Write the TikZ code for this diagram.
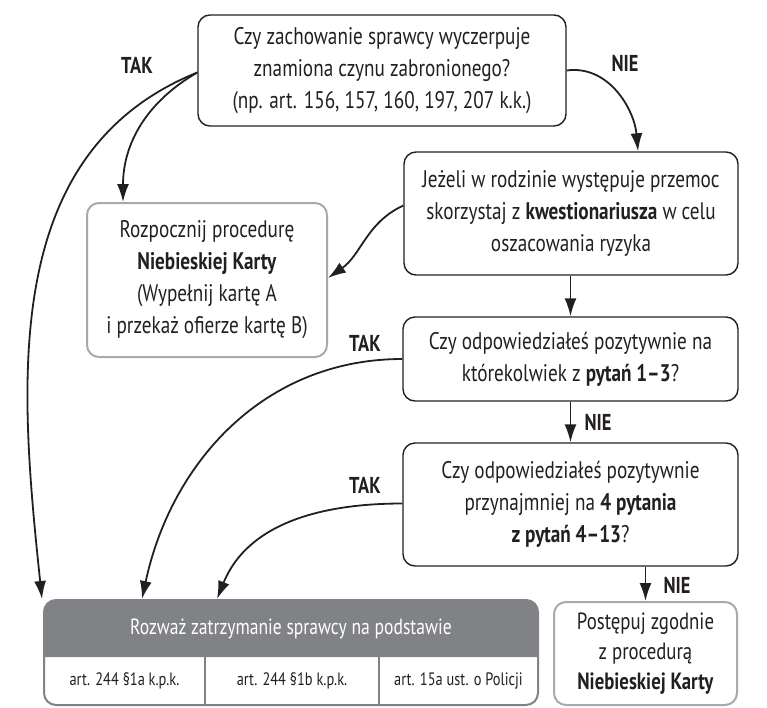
\documentclass[tikz,border=0pt]{standalone}
\usepackage{fontspec}
\setmainfont[FakeStretch=0.8]{PT Sans}
\usetikzlibrary{arrows.meta}
\definecolor{tekst}{HTML}{231F20}
\definecolor{szary}{HTML}{808285}
\definecolor{jasny}{HTML}{A7A9AC}

\begin{document}
\begin{tikzpicture}[x=1pt,y=1pt,>={Latex[length=18pt,width=12pt]},
	pyt/.style={draw=tekst,line width=1.4pt,rounded corners=12pt,align=center,
		text=tekst,inner sep=0pt,font=\fontsize{24}{32}\selectfont},
	wynik/.style={pyt,draw=jasny,line width=2pt},
	odp/.style={text=tekst,font=\fontsize{23}{26}\selectfont\bfseries},
	komorka/.style={text=tekst,font=\fontsize{18}{22}\selectfont,inner sep=0pt},
	strz/.style={->,draw=tekst,line width=1.8pt}]
	%%% Rama
	\useasboundingbox (0,0) rectangle (767,-707);
	%%% Pytania
	\node [pyt,minimum width=368,minimum height=111] (czyn) at (382,-70.5)
		{Czy zachowanie sprawcy wyczerpuje\\ znamiona czynu zabronionego?\\ (np. art. 156, 157, 160, 197, 207 k.k.)};
	\node [pyt,minimum width=334,minimum height=123] (ankieta) at (571,-213.5)
		{Jeżeli w rodzinie występuje przemoc\\ skorzystaj z \textbf{kwestionariusza} w celu\\ oszacowania ryzyka};
	\node [wynik,minimum width=240,minimum height=154] (karta) at (207,-280)
		{Rozpocznij procedurę\\ \textbf{Niebieskiej Karty}\\ (Wypełnij kartę A\\ i przekaż ofierze kartę B)};
	\node [pyt,minimum width=335,minimum height=84] (pytA) at (570.5,-359)
		{Czy odpowiedziałeś pozytywnie na\\ którekolwiek z \textbf{pytań 1–3}?};
	\node [pyt,minimum width=335,minimum height=123] (pytB) at (570.5,-504.5)
		{Czy odpowiedziałeś pozytywnie\\ przynajmniej na \textbf{4 pytania}\\ \textbf{z pytań 4–13}?};
	\node [wynik,minimum width=183,minimum height=103,font=\fontsize{23.5}{30}\selectfont] (postepuj) at (645.5,-653.5)
		{Postępuj zgodnie\\ z procedurą\\ \textbf{Niebieskiej Karty}};
	%%% Zatrzymanie
	\fill [szary] (44,-657) [rounded corners=12pt] -- (44,-600) -- (538,-600) [sharp corners] -- (538,-657) -- cycle;
	\node [draw=szary,line width=2pt,rounded corners=12pt,minimum width=494,minimum height=105,inner sep=0pt] (zatrz) at (291,-652.5) {};
	\node [text=white,font=\fontsize{22}{26}\selectfont] (zatrzTyt) at (291,-628.5) {Rozważ zatrzymanie sprawcy na podstawie};
	\node [komorka] (kpkA) at (124.5,-681) {art. 244 §1a k.p.k.};
	\node [komorka] (kpkB) at (292,-681) {art. 244 §1b k.p.k.};
	\node [komorka] (policja) at (458.5,-681) {art. 15a ust. o Policji};
	\draw [szary,line width=1.5pt] (205,-657) -- (205,-705);
	\draw [szary,line width=1.5pt] (379,-657) -- (379,-705);
	%%% Strzalki
	\draw [strz] ([yshift=-2pt]czyn.west) to[out=210,in=90] ([xshift=-84pt]karta.north);
	\draw [strz] ([yshift=-2pt]czyn.west) to[out=202,in=96] ([xshift=-1pt]zatrz.north west);
	\draw [strz] (czyn.east) to[out=8,in=95] ([xshift=67pt]ankieta.north);
	\draw [strz] ([yshift=8pt]ankieta.west) to[out=205,in=35] ([yshift=2pt]karta.east);
	\draw [strz] (ankieta.south -| pytA.north) -- (pytA.north);
	\draw [strz] (pytA.west) to[out=180,in=78] ([xshift=99pt]zatrz.north west);
	\draw [strz] (pytA.south) -- (pytB.north);
	\draw [strz] ([yshift=1pt]pytB.west) to[out=180,in=68] ([xshift=174pt]zatrz.north west);
	\draw [strz] (pytB.south -| postepuj.north) -- (postepuj.north);
	%%% Odpowiedzi
	\node [odp] (takA) at (137,-65) {TAK};
	\node [odp] (nieA) at (625,-63) {NIE};
	\node [odp] (takB) at (365,-343) {TAK};
	\node [odp] (nieB) at (598,-422) {NIE};
	\node [odp] (takC) at (365,-485) {TAK};
	\node [odp] (nieC) at (677,-585) {NIE};
\end{tikzpicture}
\end{document}
